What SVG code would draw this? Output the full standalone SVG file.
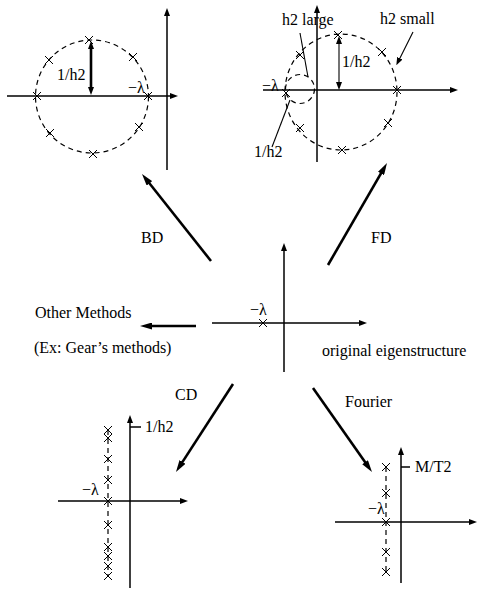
<svg xmlns="http://www.w3.org/2000/svg" width="477" height="590" viewBox="0 0 477 590">
<style>
text{font-family:"Liberation Serif","Times New Roman",serif;font-size:16px;fill:#000}
.ax{stroke:#000;stroke-width:1.5;fill:none}
.big{stroke:#000;stroke-width:2.6;fill:none}
.thin{stroke:#000;stroke-width:1.1;fill:none}
.dash{stroke:#000;stroke-width:1.2;fill:none;stroke-dasharray:5 4}
.x{stroke:#000;stroke-width:1;fill:none}
</style>
<defs>
<marker id="ah" viewBox="0 0 12 7" refX="2" refY="3.5" markerWidth="12" markerHeight="7" markerUnits="userSpaceOnUse" orient="auto"><path d="M0,0 L12,3.5 L0,7 z" fill="#000"/></marker>
<marker id="axh" viewBox="0 0 8 6" refX="2" refY="3" markerWidth="8" markerHeight="6" markerUnits="userSpaceOnUse" orient="auto"><path d="M0,0 L8,3 L0,6 z" fill="#000"/></marker>
<marker id="dh" viewBox="0 0 8 6" refX="2" refY="3" markerWidth="8" markerHeight="6" markerUnits="userSpaceOnUse" orient="auto-start-reverse"><path d="M0,0 L8,3 L0,6 z" fill="#000"/></marker>
<path id="cx" d="M-4,-4 L4,4 M-4,4 L4,-4"/>
</defs>

<g id="plot-bd">
<line class="ax" x1="7" y1="96" x2="172" y2="96" marker-end="url(#axh)"/>
<line class="ax" x1="167" y1="170" x2="167" y2="14" marker-end="url(#axh)"/>
<circle class="dash" cx="92" cy="96.5" r="56.5"/>
<line class="big" x1="91" y1="47" x2="91" y2="89" stroke-width="2" marker-start="url(#dh)" marker-end="url(#dh)"/>
<g class="x">
<use href="#cx" x="89" y="40"/><use href="#cx" x="49" y="60"/><use href="#cx" x="133" y="57"/>
<use href="#cx" x="37" y="96"/><use href="#cx" x="148" y="96"/><use href="#cx" x="50" y="133"/>
<use href="#cx" x="139" y="127"/><use href="#cx" x="93" y="154"/>
</g>
<text x="57" y="80">1/h2</text>
<text x="128" y="93">−λ</text>
</g>

<g id="plot-fd">
<line class="ax" x1="263" y1="90" x2="452" y2="90" marker-end="url(#axh)"/>
<line class="ax" x1="317" y1="162" x2="317" y2="11" marker-end="url(#axh)"/>
<ellipse class="dash" cx="341" cy="92" rx="56" ry="58"/>
<circle class="dash" cx="300" cy="89" r="14.5"/>
<line class="thin" x1="339" y1="42" x2="339" y2="84" marker-start="url(#dh)" marker-end="url(#dh)"/>
<g class="x">
<use href="#cx" x="338" y="35"/><use href="#cx" x="382" y="52"/><use href="#cx" x="397" y="90"/>
<use href="#cx" x="388" y="123"/><use href="#cx" x="342" y="150"/><use href="#cx" x="300" y="128"/>
<use href="#cx" x="300" y="55"/><use href="#cx" x="286" y="93"/>
</g>
<line class="thin" x1="300" y1="33" x2="308" y2="77" stroke-width="1.4"/>
<line class="thin" x1="272" y1="147" x2="290" y2="100" stroke-width="1.2"/>
<line class="thin" x1="413" y1="32" x2="399" y2="60" stroke-width="1.4" marker-end="url(#axh)"/>
<text x="282" y="25">h2 large</text>
<text x="380" y="24">h2 small</text>
<text x="342" y="67">1/h2</text>
<text x="262" y="91">−λ</text>
<text x="254" y="157">1/h2</text>
</g>

<g id="plot-original">
<line class="ax" x1="212" y1="323" x2="361" y2="323" marker-end="url(#axh)"/>
<line class="ax" x1="284" y1="372" x2="284" y2="249" marker-end="url(#axh)"/>
<use class="x" href="#cx" x="263" y="323"/>
<text x="250" y="315">−λ</text>
<text x="322" y="356">original eigenstructure</text>
</g>

<g id="plot-cd">
<line class="ax" x1="58" y1="501" x2="182" y2="501" marker-end="url(#axh)"/>
<line class="ax" x1="130" y1="588" x2="130" y2="421" marker-end="url(#axh)"/>
<line class="ax" x1="130" y1="427" x2="141" y2="427"/>
<line class="dash" x1="108" y1="430" x2="108" y2="577" stroke-dasharray="4 4"/>
<g class="x">
<use href="#cx" x="108" y="430"/><use href="#cx" x="108" y="438"/><use href="#cx" x="108" y="459"/>
<use href="#cx" x="108" y="480"/><use href="#cx" x="108" y="501"/><use href="#cx" x="108" y="525"/>
<use href="#cx" x="108" y="547"/><use href="#cx" x="108" y="556"/><use href="#cx" x="108" y="566"/>
<use href="#cx" x="108" y="576"/>
</g>
<text x="145" y="432">1/h2</text>
<text x="82" y="495">−λ</text>
</g>

<g id="plot-fourier">
<line class="ax" x1="335" y1="522" x2="471" y2="522" marker-end="url(#axh)"/>
<line class="ax" x1="401" y1="583" x2="401" y2="453" marker-end="url(#axh)"/>
<line class="ax" x1="401" y1="467" x2="410" y2="467"/>
<line class="dash" x1="386" y1="467" x2="386" y2="575" stroke-dasharray="4 4"/>
<g class="x">
<use href="#cx" x="386" y="467"/><use href="#cx" x="386" y="493"/><use href="#cx" x="386" y="522"/>
<use href="#cx" x="386" y="552"/><use href="#cx" x="386" y="572"/>
</g>
<text x="415" y="472">M/T2</text>
<text x="368" y="514">−λ</text>
</g>

<g id="other-methods">
<text x="35" y="318">Other Methods</text>
<text x="34" y="353">(Ex: Gear’s methods)</text>
</g>

<g id="connectors">
<line class="big" x1="211" y1="261" x2="148.2" y2="181.8" marker-end="url(#ah)"/>
<line class="big" x1="328" y1="265" x2="382" y2="171.7" marker-end="url(#ah)"/>
<line class="big" x1="196" y1="326" x2="150" y2="326" marker-end="url(#ah)"/>
<line class="big" x1="233" y1="384" x2="181.4" y2="463.6" marker-end="url(#ah)"/>
<line class="big" x1="313" y1="388" x2="366.25" y2="463.8" marker-end="url(#ah)"/>
<text x="141" y="243">BD</text>
<text x="371" y="243">FD</text>
<text x="175" y="400">CD</text>
<text x="345" y="407">Fourier</text>
</g>
</svg>
